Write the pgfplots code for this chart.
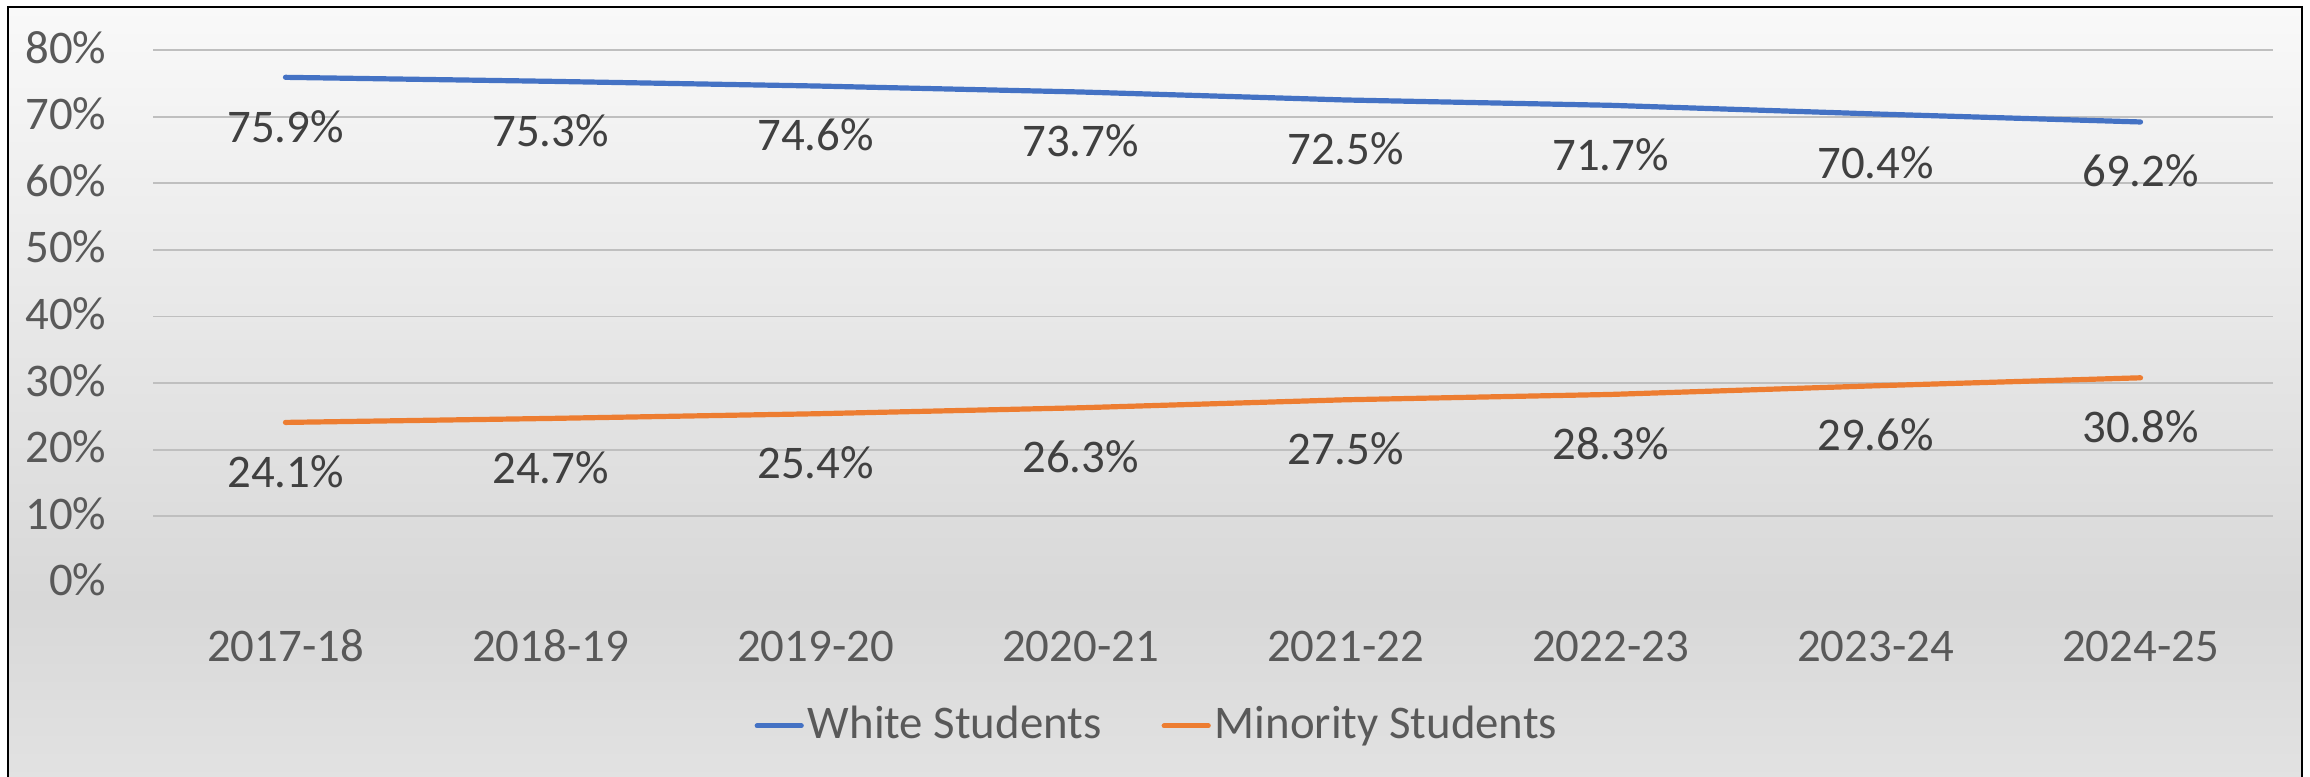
\documentclass[border=0pt]{standalone}
\usepackage{pgfplots}
\pgfplotsset{compat=1.18}
\usepackage{fontspec}
\setmainfont{Carlito}
\usepackage{xcolor}
\definecolor{WBlue}{HTML}{4472C4}
\definecolor{MOrange}{HTML}{ED7D31}
\definecolor{TickGray}{HTML}{595959}
\definecolor{LabGray}{HTML}{404040}
\definecolor{GridGray}{HTML}{BFBFBF}

\begin{document}
\begin{tikzpicture}
\fontsize{11.7pt}{14pt}\selectfont
\useasboundingbox (0,0) rectangle (577.5pt,194.25pt);
% chart area background
\shade[top color={rgb,255:red,249;green,249;blue,249},bottom color={rgb,255:red,216;green,216;blue,216}]
  (2pt,44.25pt) rectangle (575.5pt,192.5pt);
\shade[top color={rgb,255:red,216;green,216;blue,216},bottom color={rgb,255:red,226;green,226;blue,226}]
  (2pt,-1pt) rectangle (575.5pt,44.26pt);
\begin{axis}[
  at={(38.25pt,48.5pt)},anchor=south west,
  scale only axis,width=530pt,height=133.25pt,
  xmin=-0.5,xmax=7.5,ymin=0,ymax=80,
  axis line style={draw=none},
  major tick length=0pt,
  xtick={0,...,7},
  xticklabels={2017-18,2018-19,2019-20,2020-21,2021-22,2022-23,2023-24,2024-25},
  ytick={10,20,...,80},
  yticklabels={10\%,20\%,30\%,40\%,50\%,60\%,70\%,80\%},
  extra y ticks={0},
  extra y tick labels={0\%},
  extra y tick style={grid=none},
  ymajorgrids,
  major grid style={GridGray,line width=0.45pt},
  /pgf/number format/assume math mode=true,
  xticklabel style={text=TickGray,anchor=base,inner sep=0pt,yshift=-19.75pt},
  yticklabel style={text=TickGray,anchor=base east,inner sep=0pt,xshift=-11.5pt,yshift=-3.25pt},
  point meta=explicit symbolic,
  nodes near coords,
  every node near coord/.append style={text=LabGray,anchor=base,inner sep=0pt,yshift=-16.25pt},
  legend columns=2,
  legend style={at={(0.474,-0.268)},anchor=center,draw=none,fill=none,
    text=TickGray,
    nodes={inner sep=1pt},
    /tikz/every even column/.append style={column sep=14pt}},
  legend image code/.code={\draw[#1,line cap=round] (0pt,0pt) -- (11pt,0pt);},
]
\addplot[WBlue,line width=1.3pt,line cap=round,mark=none] coordinates {
  (0,75.9) [75.9\%]
  (1,75.3) [75.3\%]
  (2,74.6) [74.6\%]
  (3,73.7) [73.7\%]
  (4,72.5) [72.5\%]
  (5,71.7) [71.7\%]
  (6,70.4) [70.4\%]
  (7,69.2) [69.2\%]
};
\addlegendentry{White Students}
\addplot[MOrange,line width=1.3pt,line cap=round,mark=none] coordinates {
  (0,24.1) [24.1\%]
  (1,24.7) [24.7\%]
  (2,25.4) [25.4\%]
  (3,26.3) [26.3\%]
  (4,27.5) [27.5\%]
  (5,28.3) [28.3\%]
  (6,29.6) [29.6\%]
  (7,30.8) [30.8\%]
};
\addlegendentry{Minority Students}
\end{axis}
% chart border
\draw[black,line width=0.6pt] (2pt,-2pt) -- (2pt,192.5pt) -- (575.5pt,192.5pt) -- (575.5pt,-2pt);
\end{tikzpicture}
\end{document}
